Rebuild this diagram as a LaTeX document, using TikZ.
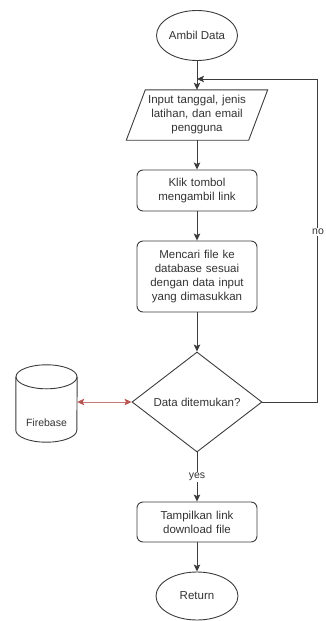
\documentclass[tikz,border=0pt]{standalone}
\usepackage{fontspec}
\setmainfont{Liberation Sans}
\usetikzlibrary{arrows.meta,shapes.geometric,calc}
\definecolor{ink}{HTML}{333333}
\definecolor{stroke}{HTML}{3C3C3C}
\definecolor{linkred}{HTML}{B85450}
\tikzset{
  line/.style={draw=stroke, line width=0.9pt},
  arr/.style={line, -{Stealth[length=7pt,width=6.5pt,inset=1.5pt]}},
  redarr/.style={draw=linkred!80, line width=0.9pt,
    {Stealth[length=7pt,width=6.5pt,inset=1.5pt,color=linkred]}-{Stealth[length=7pt,width=6.5pt,inset=1.5pt,color=linkred]}},
  txt/.style={text=ink, font=\fontsize{11.5}{14}\selectfont, align=center, inner sep=0pt},
  terminal/.style={txt, ellipse, line, minimum width=81pt, minimum height=50pt},
  process/.style={txt, line, rounded corners=6pt, minimum width=120pt, text width=118pt},
  decision/.style={txt, diamond, line, minimum width=130pt, minimum height=100pt, aspect=1.3},
  lbl/.style={text=ink, font=\fontsize{10.5}{12}\selectfont, fill=white, inner sep=1pt},
}
\begin{document}
\begin{tikzpicture}[x=1pt, y=-1pt]
  \useasboundingbox (0,0) rectangle (326,621);

  % main column
  \node[terminal] (start) at (197,35.5) {Ambil Data};
  \node[txt, minimum width=122pt, minimum height=50pt, text width=120pt] (inp) at (197,115) {Input tanggal, jenis\\latihan, dan email\\pengguna};
  \draw[line] ([xshift=9.5pt]inp.north west) -- ([xshift=9.5pt]inp.north east)
              -- ([xshift=-9.5pt]inp.south east) -- ([xshift=-9.5pt]inp.south west) -- cycle;
  \node[process, minimum height=41pt] (klik) at (197,190.5) {Klik tombol\\mengambil link};
  \node[process, minimum height=71pt] (cari) at (197,276.5) {Mencari file ke\\database sesuai\\dengan data input\\yang dimasukkan};
  \node[decision] (dec) at (197,402) {Data ditemukan?};
  \node[process, minimum height=40pt] (tamp) at (197,522) {Tampilkan link\\download file};
  \node[terminal, minimum width=82pt, minimum height=48pt] (ret) at (197,596) {Return};

  % database cylinder
  \node[minimum width=61pt, minimum height=77pt, inner sep=0pt] (fb) at (46.5,403.5) {};
  \fill[white] ([yshift=-12pt]fb.north west) rectangle ([yshift=12pt]fb.south east);
  \draw[line] ([yshift=-12pt]fb.north west) -- ([yshift=12pt]fb.south west)
     arc[start angle=180, end angle=360, x radius=30.5pt, y radius=12pt]
     -- ([yshift=-12pt]fb.north east);
  \draw[line] ([yshift=-12pt]fb.north) ellipse[x radius=30.5pt, y radius=12pt];
  \node[txt, font=\fontsize{10.5}{12}\selectfont] (fbtext) at (46.5,423) {Firebase};

  % flow
  \coordinate (join) at (197,79);
  \coordinate (loopR) at (317,402);
  \draw[arr] (start) -- (inp.north);
  \draw[arr] (inp.south) -- (klik);
  \draw[arr] (klik) -- (cari);
  \draw[arr] (cari) -- (dec);
  \draw[arr] (dec.south) -- (tamp);
  \draw[arr] (tamp) -- (ret);
  \draw[arr] (dec.east) -- (loopR) |- (join);
  \draw[redarr] (fb.east |- dec.west) -- (dec.west);

  % branch labels
  \node[lbl] (no) at (318,232) {no};
  \node[lbl] (yes) at (197,477) {yes};
\end{tikzpicture}
\end{document}
